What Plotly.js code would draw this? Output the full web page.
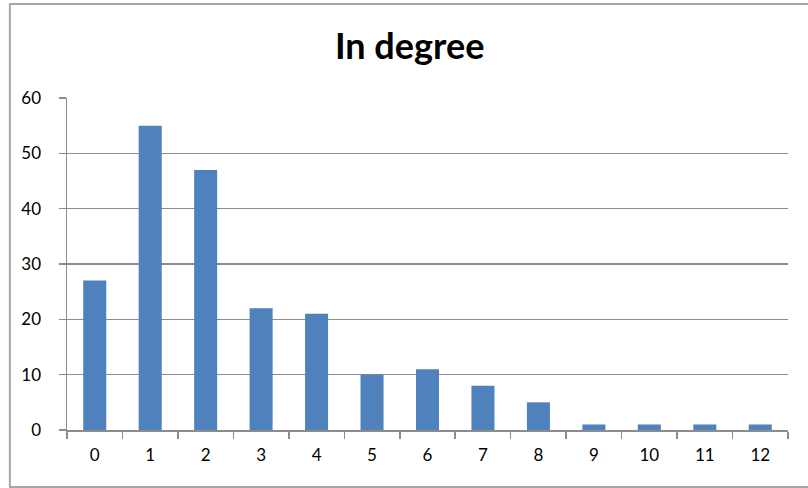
<!DOCTYPE html>
<html>
<head>
<meta charset="utf-8">
<script src="https://cdn.plot.ly/plotly-3.0.1.min.js"></script>
<style>
  html, body { margin: 0; padding: 0; background: #fff; }
  #chart { width: 808px; height: 488px; }
</style>
</head>
<body>
<div id="chart"></div>
<script>
// In-degree distribution: number of nodes for each in-degree value
const degrees = ['0', '1', '2', '3', '4', '5', '6', '7', '8', '9', '10', '11', '12'];
const counts = [27, 55, 47, 22, 21, 10, 11, 8, 5, 1, 1, 1, 1];
const yTicks = [0, 10, 20, 30, 40, 50, 60];

const fontFamily = 'Lato, "Open Sans", sans-serif';

const trace = {
  type: 'bar',
  x: degrees,
  y: counts,
  marker: { color: '#4F81BD', line: { width: 0 } },
  hoverinfo: 'x+y'
};

const layout = {
  width: 808,
  height: 488,
  margin: { l: 67, r: 20, t: 98, b: 58 },
  paper_bgcolor: '#ffffff',
  plot_bgcolor: '#ffffff',
  bargap: 0.585,
  showlegend: false,
  font: { family: fontFamily, color: '#000000', size: 17 },
  title: {
    text: '<b>In degree</b>',
    font: { family: fontFamily, size: 36, color: '#000000' },
    xref: 'container', x: 0.507, xanchor: 'center',
    yref: 'container', y: 0.905, yanchor: 'middle'
  },
  xaxis: {
    type: 'category',
    tickson: 'boundaries',
    ticks: 'outside',
    ticklen: 7,
    tickcolor: '#8c8c8c',
    tickwidth: 1.5,
    showline: true,
    linecolor: '#8c8c8c',
    linewidth: 1.5,
    showgrid: false,
    zeroline: false,
    ticklabelstandoff: 9,
    tickfont: { family: fontFamily, size: 17, color: '#000000' },
    fixedrange: true
  },
  yaxis: {
    range: [0, 60],
    tickvals: yTicks,
    ticktext: yTicks.map(String),
    ticks: 'outside',
    ticklen: 7,
    tickcolor: '#8c8c8c',
    tickwidth: 1.5,
    showline: true,
    linecolor: '#8c8c8c',
    linewidth: 1.5,
    showgrid: true,
    gridcolor: '#8c8c8c',
    gridwidth: 1.5,
    zeroline: false,
    ticklabelstandoff: 14,
    tickfont: { family: fontFamily, size: 17, color: '#000000' },
    fixedrange: true
  },
  shapes: [{
    // outer chart frame
    type: 'rect',
    xref: 'paper', yref: 'paper',
    x0: -0.0792, x1: 1.06,
    y0: -0.1717, y1: 1.2834,
    line: { color: '#a6a6a6', width: 2 },
    fillcolor: 'rgba(0,0,0,0)',
    layer: 'below'
  }]
};

Plotly.newPlot('chart', [trace], layout, { displayModeBar: false, staticPlot: true });
</script>
</body>
</html>
